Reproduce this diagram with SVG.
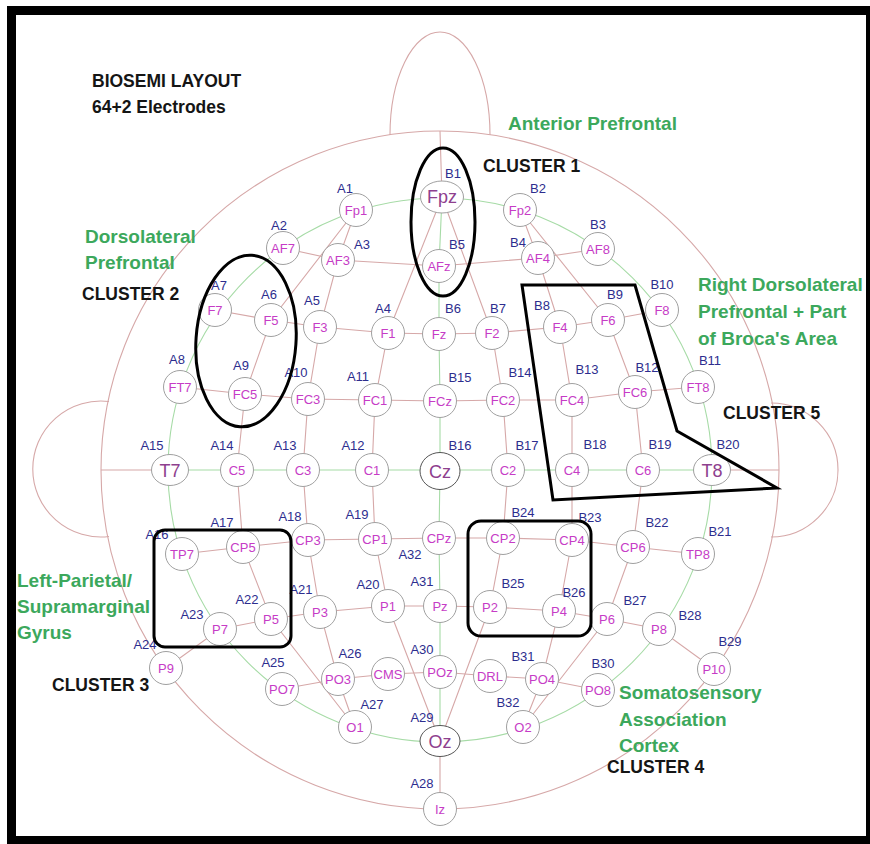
<svg xmlns="http://www.w3.org/2000/svg" width="870" height="844" viewBox="0 0 870 844">
<style>
.pk{fill:none;stroke:#d6a8a8;stroke-width:1.1}
.gr{fill:none;stroke:#a6dba6;stroke-width:1.1}
.e{fill:#fff;stroke:#a0a0a0;stroke-width:1}
.eb{fill:#fff;stroke:#555;stroke-width:1}
.n{font-family:"Liberation Sans",Arial,sans-serif;font-size:13px;fill:#c63cc6;text-anchor:middle}
.nb{font-family:"Liberation Sans",Arial,sans-serif;font-size:18px;fill:#8e408e;text-anchor:middle}
.c{font-family:"Liberation Sans",Arial,sans-serif;font-size:13px;fill:#2d2d8e;text-anchor:middle}
.cl{fill:none;stroke:#000;stroke-width:3}
.t{font-family:"Liberation Sans",Arial,sans-serif;font-weight:bold;font-size:17.5px;fill:#151515}
.g{font-family:"Liberation Sans",Arial,sans-serif;font-weight:bold;font-size:19px;fill:#3ca85c}
</style>
<rect x="0" y="0" width="870" height="844" fill="#fff"/>
<rect x="7" y="6" width="863" height="838" fill="#000"/>
<rect x="16" y="15" width="850" height="821" fill="#fff"/>

<g id="head">
<circle class="pk" cx="440" cy="470" r="339"/>
<path class="pk" d="M109 401.5 A68 68 0 1 0 109 536.5"/>
<path class="pk" d="M771 403 A67 67 0 1 1 771 537"/>
<path class="pk" d="M390 135 A50 103 0 0 1 490 135"/>
<circle class="gr" cx="440" cy="470" r="272"/>
</g>

<g id="connectors">
<path class="pk" d="M283 248 L338 260 L439 266 L538 258 L598 249"/>
<path class="pk" d="M215 310 L271 320 L320 327 L388 333 L439 334 L492 333 L560 327 L608 320 L662 310"/>
<path class="pk" d="M180 387 L245 394 L308 399 L375 400 L440 401 L503 400 L572 400 L635 392 L698 387"/>
<path class="pk" d="M182 554 L243 547 L308 540 L375 539 L439 538 L503 538 L572 540 L633 547 L698 554"/>
<path class="pk" d="M166 668 L220 629 L271 619 L320 612 L388 606 L440 606 L490 607 L559 611 L607 619 L659 629 L714 669"/>
<path class="pk" d="M282 689 L338 679 L388 674 L440 672 L490 676 L542 679 L598 690"/>
<path class="pk" d="M101 470 L170 470 M712 470 L779 470 M440 131 L442 197 M440 741 L440 809"/>
<path class="pk" d="M356 210 L338 260 L320 327 L308 399 L303 470 L308 540 L320 612 L338 679 L355 727"/>
<path class="pk" d="M356 210 L271 320 L245 394 L237 470 L243 547 L271 619 L355 727"/>
<path class="pk" d="M442 197 L388 333 L375 400 L372 470 L375 539 L388 606 L440 741"/>
<path class="pk" d="M520 210 L538 258 L560 327 L572 400 L572 470 L572 540 L559 611 L542 679 L523 727"/>
<path class="pk" d="M520 210 L608 320 L635 392 L643 470 L633 547 L607 619 L523 727"/>
<path class="pk" d="M442 197 L492 333 L503 400 L508 470 L503 538 L490 607 L440 741"/>
<path class="gr" d="M170 470 L712 470"/>
<path class="gr" d="M442 197 L439 266 L439 334 L440 401 L440 471 L439 538 L440 606 L440 672 L440 741"/>
</g>

<g id="Fp1"><circle class="e" cx="356" cy="210" r="16.5"/><text class="n" x="356" y="214.5">Fp1</text><text class="c" x="345" y="192.5">A1</text></g>
<g id="Fpz"><ellipse class="e" cx="442" cy="197" rx="21.5" ry="16"/><text class="nb" x="442" y="203">Fpz</text><text class="c" x="453" y="177.5">B1</text></g>
<g id="Fp2"><circle class="e" cx="520" cy="210" r="16.5"/><text class="n" x="520" y="214.5">Fp2</text><text class="c" x="538" y="192.5">B2</text></g>
<g id="AF7"><circle class="e" cx="283" cy="248" r="16.5"/><text class="n" x="283" y="252.5">AF7</text><text class="c" x="279" y="229.5">A2</text></g>
<g id="AF3"><circle class="e" cx="338" cy="260" r="16.5"/><text class="n" x="338" y="264.5">AF3</text><text class="c" x="362" y="248.5">A3</text></g>
<g id="AFz"><circle class="e" cx="439" cy="266" r="16.5"/><text class="n" x="439" y="270.5">AFz</text><text class="c" x="457" y="248.5">B5</text></g>
<g id="AF4"><circle class="e" cx="538" cy="258" r="16.5"/><text class="n" x="538" y="262.5">AF4</text><text class="c" x="518" y="246.5">B4</text></g>
<g id="AF8"><circle class="e" cx="598" cy="249" r="16.5"/><text class="n" x="598" y="253.5">AF8</text><text class="c" x="598" y="228.5">B3</text></g>
<g id="F7"><circle class="e" cx="215" cy="310" r="16.5"/><text class="n" x="215" y="314.5">F7</text><text class="c" x="219" y="289.5">A7</text></g>
<g id="F5"><circle class="e" cx="271" cy="320" r="16.5"/><text class="n" x="271" y="324.5">F5</text><text class="c" x="269" y="298.5">A6</text></g>
<g id="F3"><circle class="e" cx="320" cy="327" r="16.5"/><text class="n" x="320" y="331.5">F3</text><text class="c" x="312" y="304.5">A5</text></g>
<g id="F1"><circle class="e" cx="388" cy="333" r="16.5"/><text class="n" x="388" y="337.5">F1</text><text class="c" x="383" y="312.5">A4</text></g>
<g id="Fz"><circle class="e" cx="439" cy="334" r="16.5"/><text class="n" x="439" y="338.5">Fz</text><text class="c" x="453" y="312.5">B6</text></g>
<g id="F2"><circle class="e" cx="492" cy="333" r="16.5"/><text class="n" x="492" y="337.5">F2</text><text class="c" x="498" y="312.5">B7</text></g>
<g id="F4"><circle class="e" cx="560" cy="327" r="16.5"/><text class="n" x="560" y="331.5">F4</text><text class="c" x="542" y="309.5">B8</text></g>
<g id="F6"><circle class="e" cx="608" cy="320" r="16.5"/><text class="n" x="608" y="324.5">F6</text><text class="c" x="615" y="298.5">B9</text></g>
<g id="F8"><circle class="e" cx="662" cy="310" r="16.5"/><text class="n" x="662" y="314.5">F8</text><text class="c" x="662" y="288.5">B10</text></g>
<g id="FT7"><circle class="e" cx="180" cy="387" r="16.5"/><text class="n" x="180" y="391.5">FT7</text><text class="c" x="177" y="363.5">A8</text></g>
<g id="FC5"><circle class="e" cx="245" cy="394" r="16.5"/><text class="n" x="245" y="398.5">FC5</text><text class="c" x="241" y="369.5">A9</text></g>
<g id="FC3"><circle class="e" cx="308" cy="399" r="16.5"/><text class="n" x="308" y="403.5">FC3</text><text class="c" x="296" y="376.5">A10</text></g>
<g id="FC1"><circle class="e" cx="375" cy="400" r="16.5"/><text class="n" x="375" y="404.5">FC1</text><text class="c" x="358" y="380.5">A11</text></g>
<g id="FCz"><circle class="e" cx="440" cy="401" r="16.5"/><text class="n" x="440" y="405.5">FCz</text><text class="c" x="460" y="381.5">B15</text></g>
<g id="FC2"><circle class="e" cx="503" cy="400" r="16.5"/><text class="n" x="503" y="404.5">FC2</text><text class="c" x="520" y="376.5">B14</text></g>
<g id="FC4"><circle class="e" cx="572" cy="400" r="16.5"/><text class="n" x="572" y="404.5">FC4</text><text class="c" x="587" y="373.5">B13</text></g>
<g id="FC6"><circle class="e" cx="635" cy="392" r="16.5"/><text class="n" x="635" y="396.5">FC6</text><text class="c" x="647" y="371.5">B12</text></g>
<g id="FT8"><circle class="e" cx="698" cy="387" r="16.5"/><text class="n" x="698" y="391.5">FT8</text><text class="c" x="710" y="364.5">B11</text></g>
<g id="T7"><ellipse class="e" cx="170" cy="470" rx="18.5" ry="15.5"/><text class="nb" x="170" y="476.5">T7</text><text class="c" x="152" y="449.5">A15</text></g>
<g id="C5"><circle class="e" cx="237" cy="470" r="16.5"/><text class="n" x="237" y="474.5">C5</text><text class="c" x="222" y="449.5">A14</text></g>
<g id="C3"><circle class="e" cx="303" cy="470" r="16.5"/><text class="n" x="303" y="474.5">C3</text><text class="c" x="285" y="449.5">A13</text></g>
<g id="C1"><circle class="e" cx="372" cy="470" r="16.5"/><text class="n" x="372" y="474.5">C1</text><text class="c" x="353" y="449.5">A12</text></g>
<g id="Cz"><ellipse class="eb" cx="440" cy="471" rx="20" ry="18.5"/><text class="nb" x="440" y="477.5">Cz</text><text class="c" x="460" y="449.5">B16</text></g>
<g id="C2"><circle class="e" cx="508" cy="470" r="16.5"/><text class="n" x="508" y="474.5">C2</text><text class="c" x="527" y="449.5">B17</text></g>
<g id="C4"><circle class="e" cx="572" cy="470" r="16.5"/><text class="n" x="572" y="474.5">C4</text><text class="c" x="595" y="448.5">B18</text></g>
<g id="C6"><circle class="e" cx="643" cy="470" r="16.5"/><text class="n" x="643" y="474.5">C6</text><text class="c" x="660" y="448.5">B19</text></g>
<g id="T8"><ellipse class="e" cx="712" cy="470" rx="18.5" ry="15.5"/><text class="nb" x="712" y="476.5">T8</text><text class="c" x="728" y="448.5">B20</text></g>
<g id="TP7"><circle class="e" cx="182" cy="554" r="16.5"/><text class="n" x="182" y="558.5">TP7</text><text class="c" x="157" y="538.5">A16</text></g>
<g id="CP5"><circle class="e" cx="243" cy="547" r="16.5"/><text class="n" x="243" y="551.5">CP5</text><text class="c" x="222" y="526.5">A17</text></g>
<g id="CP3"><circle class="e" cx="308" cy="540" r="16.5"/><text class="n" x="308" y="544.5">CP3</text><text class="c" x="290" y="520.5">A18</text></g>
<g id="CP1"><circle class="e" cx="375" cy="539" r="16.5"/><text class="n" x="375" y="543.5">CP1</text><text class="c" x="357" y="518.5">A19</text></g>
<g id="CPz"><circle class="e" cx="439" cy="538" r="16.5"/><text class="n" x="439" y="542.5">CPz</text><text class="c" x="410" y="558.5">A32</text></g>
<g id="CP2"><circle class="e" cx="503" cy="538" r="16.5"/><text class="n" x="503" y="542.5">CP2</text><text class="c" x="523" y="516.5">B24</text></g>
<g id="CP4"><circle class="e" cx="572" cy="540" r="16.5"/><text class="n" x="572" y="544.5">CP4</text><text class="c" x="590" y="521.5">B23</text></g>
<g id="CP6"><circle class="e" cx="633" cy="547" r="16.5"/><text class="n" x="633" y="551.5">CP6</text><text class="c" x="657" y="526.5">B22</text></g>
<g id="TP8"><circle class="e" cx="698" cy="554" r="16.5"/><text class="n" x="698" y="558.5">TP8</text><text class="c" x="720" y="535.5">B21</text></g>
<g id="P9"><circle class="e" cx="166" cy="668" r="16.5"/><text class="n" x="166" y="672.5">P9</text><text class="c" x="145" y="648.5">A24</text></g>
<g id="P7"><circle class="e" cx="220" cy="629" r="16.5"/><text class="n" x="220" y="633.5">P7</text><text class="c" x="192" y="618.5">A23</text></g>
<g id="P5"><circle class="e" cx="271" cy="619" r="16.5"/><text class="n" x="271" y="623.5">P5</text><text class="c" x="247" y="603.5">A22</text></g>
<g id="P3"><circle class="e" cx="320" cy="612" r="16.5"/><text class="n" x="320" y="616.5">P3</text><text class="c" x="301" y="593.5">A21</text></g>
<g id="P1"><circle class="e" cx="388" cy="606" r="16.5"/><text class="n" x="388" y="610.5">P1</text><text class="c" x="368" y="588.5">A20</text></g>
<g id="Pz"><circle class="e" cx="440" cy="606" r="16.5"/><text class="n" x="440" y="610.5">Pz</text><text class="c" x="422" y="585.5">A31</text></g>
<g id="P2"><circle class="e" cx="490" cy="607" r="16.5"/><text class="n" x="490" y="611.5">P2</text><text class="c" x="513" y="587.5">B25</text></g>
<g id="P4"><circle class="e" cx="559" cy="611" r="16.5"/><text class="n" x="559" y="615.5">P4</text><text class="c" x="574" y="596.5">B26</text></g>
<g id="P6"><circle class="e" cx="607" cy="619" r="16.5"/><text class="n" x="607" y="623.5">P6</text><text class="c" x="635" y="604.5">B27</text></g>
<g id="P8"><circle class="e" cx="659" cy="629" r="16.5"/><text class="n" x="659" y="633.5">P8</text><text class="c" x="690" y="619.5">B28</text></g>
<g id="P10"><circle class="e" cx="714" cy="669" r="16.5"/><text class="n" x="714" y="673.5">P10</text><text class="c" x="730" y="645.5">B29</text></g>
<g id="PO7"><circle class="e" cx="282" cy="689" r="16.5"/><text class="n" x="282" y="693.5">PO7</text><text class="c" x="273" y="666.5">A25</text></g>
<g id="PO3"><circle class="e" cx="338" cy="679" r="16.5"/><text class="n" x="338" y="683.5">PO3</text><text class="c" x="350" y="657.5">A26</text></g>
<g id="CMS"><circle class="e" cx="388" cy="674" r="16.5"/><text class="n" x="388" y="678.5">CMS</text></g>
<g id="POz"><circle class="e" cx="440" cy="672" r="16.5"/><text class="n" x="440" y="676.5">POz</text><text class="c" x="422" y="653.5">A30</text></g>
<g id="DRL"><circle class="e" cx="490" cy="676" r="16.5"/><text class="n" x="490" y="680.5">DRL</text></g>
<g id="PO4"><circle class="e" cx="542" cy="679" r="16.5"/><text class="n" x="542" y="683.5">PO4</text><text class="c" x="523" y="660.5">B31</text></g>
<g id="PO8"><circle class="e" cx="598" cy="690" r="16.5"/><text class="n" x="598" y="694.5">PO8</text><text class="c" x="603" y="667.5">B30</text></g>
<g id="O1"><circle class="e" cx="355" cy="727" r="16.5"/><text class="n" x="355" y="731.5">O1</text><text class="c" x="372" y="708.5">A27</text></g>
<g id="Oz"><ellipse class="eb" cx="440" cy="741" rx="20" ry="15.5"/><text class="nb" x="440" y="747.5">Oz</text><text class="c" x="422" y="721.5">A29</text></g>
<g id="O2"><circle class="e" cx="523" cy="727" r="16.5"/><text class="n" x="523" y="731.5">O2</text><text class="c" x="508" y="706.5">B32</text></g>
<g id="Iz"><circle class="e" cx="440" cy="809" r="16.5"/><text class="n" x="440" y="813.5">Iz</text><text class="c" x="422" y="787.5">A28</text></g>

<g id="clusters">
<ellipse class="cl" cx="443" cy="222" rx="32" ry="74"/>
<ellipse class="cl" cx="246" cy="341" rx="50" ry="86" transform="rotate(4 246 341)"/>
<rect class="cl" x="154" y="530" width="137" height="117" rx="11"/>
<rect class="cl" x="468" y="521" width="123" height="115" rx="13"/>
<path class="cl" d="M522 285 L635 285 L677 431 L777 488 L553 500 Z" stroke-linejoin="miter"/>
</g>

<g id="annotations">
<text class="t" x="92" y="87" font-size="18">BIOSEMI LAYOUT</text>
<text class="t" x="92" y="113" font-size="18">64+2 Electrodes</text>
<text class="g" x="508" y="130">Anterior Prefrontal</text>
<text class="t" x="483" y="172">CLUSTER 1</text>
<text class="g" x="85" y="243">Dorsolateral</text>
<text class="g" x="85" y="269">Prefrontal</text>
<text class="t" x="82" y="300">CLUSTER 2</text>
<text class="g" x="698" y="291">Right Dorsolateral</text>
<text class="g" x="698" y="318">Prefrontal + Part</text>
<text class="g" x="698" y="345">of Broca's Area</text>
<text class="t" x="723" y="419">CLUSTER 5</text>
<text class="g" x="17" y="587">Left-Parietal/</text>
<text class="g" x="17" y="613">Supramarginal</text>
<text class="g" x="17" y="639">Gyrus</text>
<text class="t" x="52" y="691">CLUSTER 3</text>
<text class="g" x="619" y="699">Somatosensory</text>
<text class="g" x="619" y="726">Association</text>
<text class="g" x="619" y="752">Cortex</text>
<text class="t" x="607" y="773">CLUSTER 4</text>
</g>
</svg>
